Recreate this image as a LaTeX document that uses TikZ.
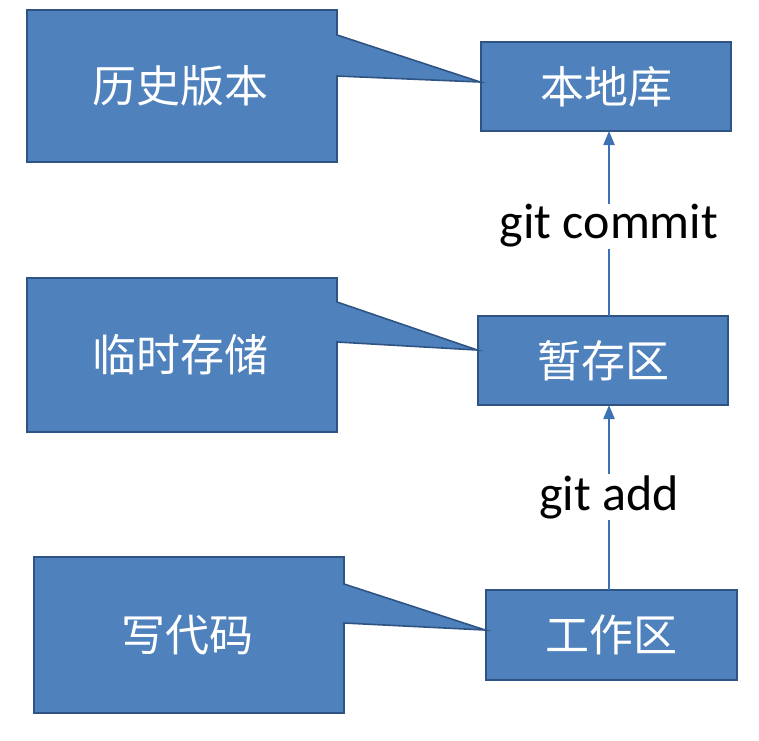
\documentclass[tikz,border=0pt]{standalone}
\usepackage{fontspec}
\setmainfont{Carlito}
\newfontfamily\cjk{Noto Sans CJK SC}
\usetikzlibrary{arrows.meta}
\definecolor{boxfill}{HTML}{4F81BD}
\definecolor{boxline}{HTML}{2F5483}
\definecolor{arrowblue}{HTML}{3C72B5}
\tikzset{
  callout/.style={fill=boxfill, draw=boxline, line width=1.6pt, line join=miter},
  areabox/.style={rectangle, fill=boxfill, draw=boxline, line width=1.6pt, inner sep=0pt},
  boxtext/.style={text=white, font=\cjk\fontsize{44}{46}\selectfont},
  cmd/.style={text=black, font=\fontsize{50}{52}\selectfont, fill=white, inner sep=1pt},
  flow/.style={draw=arrowblue, line width=2.2pt, -{Triangle[length=14pt, width=11pt]}}
}
\begin{document}
\begin{tikzpicture}[x=1pt, y=-1pt]
\useasboundingbox (0,0) rectangle (759,740);
\fill[white] (0,0) rectangle (759,740);
% right-hand area boxes
\node[areabox, minimum width=250pt, minimum height=89pt] (repo) at (606,86.5) {};
\node[boxtext] (repot) at (repo.center) {本地库};
\node[areabox, minimum width=250pt, minimum height=89pt] (stage) at (603,360.5) {};
\node[boxtext] (staget) at (stage.center) {暂存区};
\node[areabox, minimum width=251pt, minimum height=90pt] (work) at (611.5,635) {};
\node[boxtext] (workt) at (work.center) {工作区};
% callouts
\draw[callout] (27,10) -- (337,10) -- (337,35) -- (repo.west |- 0,82) -- (337,76) -- (337,162) -- (27,162) -- cycle;
\node[boxtext] (hist) at (180,86) {历史版本};
\draw[callout] (27,278) -- (337,278) -- (337,302) -- (stage.west |- 0,350) -- (337,342) -- (337,432) -- (27,432) -- cycle;
\node[boxtext] (temp) at (180,355) {临时存储};
\draw[callout] (34,557) -- (344,557) -- (344,584) -- (work.west |- 0,630) -- (344,623) -- (344,713) -- (34,713) -- cycle;
\node[boxtext] (code) at (187,635) {写代码};
% connectors
\coordinate (s1) at (609,316);
\coordinate (e1) at (609,131);
\coordinate (s2) at (609,590);
\coordinate (e2) at (609,405);
\draw[flow] (s1) -- (e1);
\draw[flow] (s2) -- (e2);
\node[cmd] (commit) at (609,226) {git commit};
\node[cmd] (add) at (609,497) {git add};
\end{tikzpicture}
\end{document}
